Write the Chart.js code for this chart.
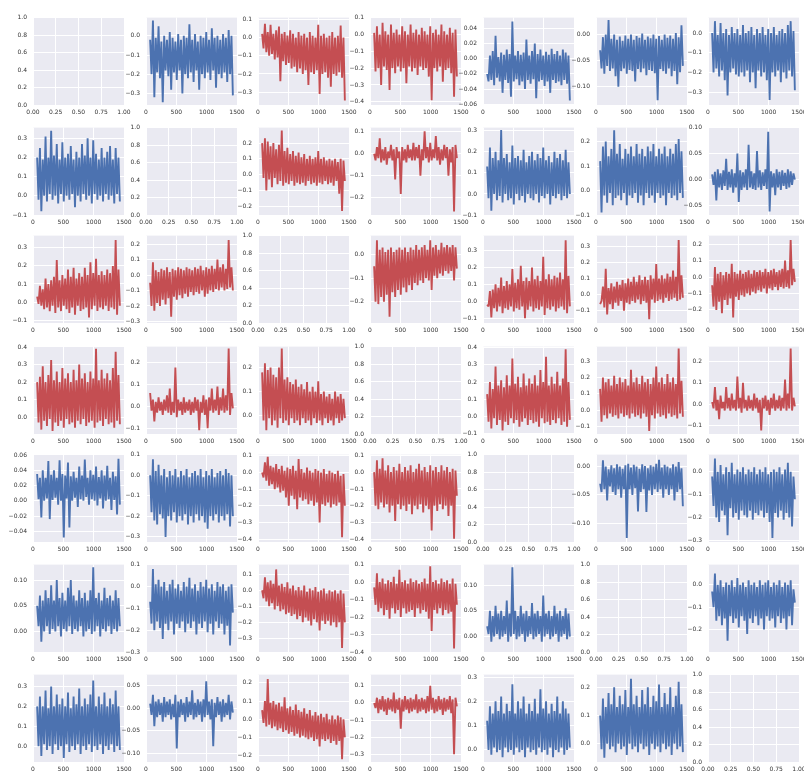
<!DOCTYPE html>
<html>
<head>
<meta charset="utf-8">
<script src="https://cdn.jsdelivr.net/npm/chart.js@4.4.1/dist/chart.umd.min.js"></script>
<style>
  html, body { margin: 0; padding: 0; background: #fff; }
  #wrap { position: relative; width: 804px; height: 774px; overflow: hidden; }
  #wrap canvas { position: absolute; }
</style>
</head>
<body>
<div id="wrap"></div>
<script>
// values, one array per panel (row r, column c)
const r1c2 = [-0.02,-0.2, 0.08,-0.32, -0.01,-0.19, 0.05,-0.22, -0.03,-0.345, 0.0,-0.18, -0.02,-0.21, 0.02,-0.28, -0.01,-0.19, -0.03,-0.23, 0.01,-0.18, -0.02,-0.3, 0.0,-0.2, -0.01,-0.22, 0.06,-0.19, -0.02,-0.24, 0.01,-0.18, -0.03,-0.28, 0.0,-0.2, -0.01,-0.22, 0.02,-0.19, -0.02,-0.23, 0.04,-0.18, -0.01,-0.27, 0.0,-0.2, -0.02,-0.22, 0.01,-0.19, -0.01,-0.24, 0.03,-0.2, 0.0,-0.31];
const r1c3 = [0.02,-0.06, 0.075,-0.08, 0.03,-0.1, 0.07,-0.09, 0.02,-0.12, 0.04,-0.11, 0.06,-0.24, 0.02,-0.13, 0.03,-0.15, 0.01,-0.14, 0.04,-0.17, 0.02,-0.16, 0.0,-0.19, 0.03,-0.17, 0.01,-0.2, 0.02,-0.18, 0.0,-0.26, 0.03,-0.19, 0.01,-0.2, 0.0,-0.18, 0.07,-0.31, 0.01,-0.2, 0.02,-0.19, 0.0,-0.22, 0.01,-0.27, 0.03,-0.2, 0.0,-0.21, 0.01,-0.19, 0.065,-0.22, 0.0,-0.345];
const r1c4 = [0.01,-0.22, 0.05,-0.2, 0.0,-0.3, 0.07,-0.19, 0.02,-0.21, 0.0,-0.33, 0.06,-0.2, 0.01,-0.23, 0.03,-0.19, 0.0,-0.22, 0.05,-0.2, 0.02,-0.29, 0.0,-0.19, 0.06,-0.22, 0.01,-0.2, 0.03,-0.24, 0.0,-0.19, 0.04,-0.21, 0.02,-0.2, 0.0,-0.25, 0.05,-0.39, 0.01,-0.2, 0.03,-0.22, 0.0,-0.19, 0.06,-0.28, 0.02,-0.21, 0.0,-0.2, 0.04,-0.23, 0.01,-0.37, 0.03,-0.25];
const r1c5 = [-0.02,-0.03, 0.004,-0.028, 0.01,-0.035, 0.03,-0.025, 0.002,-0.03, 0.008,-0.045, 0.005,-0.028, 0.012,-0.032, 0.006,-0.05, 0.049,-0.03, 0.004,-0.027, 0.01,-0.035, 0.005,-0.03, 0.008,-0.04, 0.025,-0.028, 0.004,-0.033, 0.01,-0.027, 0.02,-0.052, 0.006,-0.03, 0.012,-0.028, 0.004,-0.036, 0.009,-0.03, 0.005,-0.045, 0.013,-0.028, 0.006,-0.032, 0.01,-0.03, 0.004,-0.035, 0.012,-0.028, 0.008,-0.033, 0.004,-0.055];
const r1c6 = [-0.03,-0.065, -0.005,-0.075, 0.0,-0.06, 0.028,-0.07, -0.008,-0.065, 0.0,-0.08, -0.01,-0.1, -0.004,-0.07, -0.012,-0.065, -0.002,-0.075, -0.008,-0.068, 0.0,-0.07, -0.01,-0.09, -0.003,-0.066, -0.006,-0.072, 0.002,-0.065, -0.01,-0.078, -0.004,-0.068, -0.007,-0.07, 0.0,-0.074, -0.008,-0.126, -0.003,-0.066, -0.01,-0.07, 0.0,-0.075, -0.006,-0.065, -0.002,-0.08, -0.008,-0.07, 0.003,-0.095, -0.005,-0.072, 0.018,-0.06];
const r1c7 = [0.0,-0.2, 0.06,-0.18, -0.01,-0.22, 0.05,-0.19, 0.0,-0.24, 0.02,-0.317, -0.01,-0.2, 0.03,-0.18, 0.0,-0.21, 0.02,-0.22, -0.01,-0.2, 0.04,-0.22, 0.0,-0.19, 0.01,-0.25, 0.03,-0.2, -0.01,-0.28, 0.02,-0.19, 0.0,-0.22, 0.03,-0.2, -0.01,-0.24, 0.02,-0.34, 0.0,-0.2, 0.03,-0.22, -0.01,-0.19, 0.01,-0.25, 0.02,-0.2, 0.0,-0.23, 0.04,-0.19, 0.06,-0.22, 0.01,-0.29];

const r2c1 = [0.2,-0.02, 0.25,-0.08, 0.19,0.0, 0.31,-0.03, 0.2,0.01, 0.34,-0.02, 0.21,0.0, 0.27,-0.04, 0.19,0.01, 0.28,-0.03, 0.2,0.0, 0.22,-0.02, 0.26,0.01, 0.19,-0.06, 0.23,0.0, 0.2,-0.03, 0.27,0.01, 0.21,-0.02, 0.3,0.0, 0.2,-0.04, 0.29,0.01, 0.22,-0.02, 0.19,0.0, 0.25,-0.03, 0.2,0.01, 0.23,-0.02, 0.26,0.0, 0.19,-0.04, 0.25,0.01, 0.2,-0.03];
const r2c3 = [0.2,-0.02, 0.23,-0.1, 0.21,-0.03, 0.18,-0.08, 0.2,-0.02, 0.16,-0.06, 0.19,-0.04, 0.28,-0.07, 0.15,-0.05, 0.17,-0.06, 0.13,-0.04, 0.15,-0.07, 0.12,-0.05, 0.14,-0.06, 0.11,-0.05, 0.13,-0.07, 0.1,-0.04, 0.12,-0.06, 0.1,-0.05, 0.11,-0.07, 0.15,-0.05, 0.1,-0.06, 0.11,-0.04, 0.09,-0.06, 0.1,-0.05, 0.09,-0.07, 0.1,-0.04, 0.08,-0.12, 0.1,-0.23, 0.09,-0.04];
const r2c4 = [0.0,-0.03, 0.03,-0.02, 0.07,-0.04, 0.02,-0.03, 0.03,-0.05, 0.01,-0.02, 0.04,-0.03, 0.02,-0.117, 0.03,-0.02, 0.01,-0.183, 0.03,-0.03, 0.02,-0.04, 0.04,-0.02, 0.02,-0.03, 0.05,-0.03, 0.03,-0.02, 0.04,-0.1, 0.02,-0.03, 0.102,-0.02, 0.03,-0.04, 0.05,-0.03, 0.02,-0.02, 0.08,-0.03, 0.03,-0.05, 0.02,-0.03, 0.04,-0.02, 0.03,-0.1, 0.02,-0.04, 0.03,-0.263, 0.04,-0.02];
const r2c5 = [0.13,-0.02, 0.22,-0.08, 0.17,0.0, 0.2,-0.03, 0.16,-0.01, 0.303,-0.04, 0.17,0.0, 0.19,-0.03, 0.15,-0.02, 0.23,-0.05, 0.17,0.0, 0.18,-0.03, 0.16,-0.01, 0.21,-0.04, 0.15,0.0, 0.18,-0.02, 0.2,-0.03, 0.16,0.0, 0.19,-0.04, 0.17,-0.01, 0.22,-0.02, 0.16,0.0, 0.18,-0.05, 0.15,-0.01, 0.2,-0.02, 0.17,0.0, 0.19,-0.03, 0.16,-0.01, 0.21,-0.02, 0.15,0.0];
const r2c6 = [0.12,-0.09, 0.18,-0.02, 0.2,-0.05, 0.14,-0.01, 0.17,-0.06, 0.246,-0.03, 0.15,-0.02, 0.19,-0.04, 0.13,-0.01, 0.17,-0.06, 0.15,-0.02, 0.18,-0.03, 0.14,-0.01, 0.19,-0.05, 0.15,-0.02, 0.17,-0.06, 0.14,-0.01, 0.18,-0.03, 0.16,-0.02, 0.19,-0.05, 0.14,-0.01, 0.17,-0.03, 0.15,-0.02, 0.18,-0.06, 0.14,-0.01, 0.17,-0.03, 0.15,-0.02, 0.19,-0.04, 0.21,-0.01, 0.16,-0.03];
const r2c7 = [0.01,-0.01, 0.015,-0.04, 0.02,-0.015, 0.012,-0.02, 0.018,-0.012, 0.04,-0.02, 0.015,-0.015, 0.02,-0.025, 0.012,-0.015, 0.05,-0.043, 0.018,-0.02, 0.014,-0.015, 0.02,-0.02, 0.067,-0.015, 0.016,-0.018, 0.012,-0.02, 0.055,-0.015, 0.018,-0.02, 0.014,-0.012, 0.02,-0.018, 0.092,-0.061, 0.016,-0.015, 0.012,-0.03, 0.02,-0.015, 0.015,-0.02, 0.018,-0.012, 0.013,-0.018, 0.02,-0.015, 0.016,-0.01, 0.012,0.0];

const r3c1 = [0.03,-0.01, 0.09,-0.02, 0.07,-0.04, 0.13,-0.03, 0.1,-0.05, 0.12,-0.02, 0.14,-0.06, 0.233,-0.03, 0.12,-0.05, 0.15,-0.02, 0.13,-0.04, 0.18,-0.06, 0.14,-0.03, 0.19,-0.07, 0.13,-0.02, 0.16,-0.05, 0.14,-0.04, 0.19,-0.03, 0.15,-0.086, 0.22,-0.04, 0.16,-0.02, 0.24,-0.05, 0.15,-0.03, 0.17,-0.04, 0.15,-0.02, 0.18,-0.05, 0.16,-0.03, 0.2,-0.04, 0.344,-0.07, 0.18,-0.02];
const r3c2 = [-0.05,-0.2, 0.083,-0.23, 0.03,-0.18, 0.02,-0.2, 0.04,-0.16, 0.03,-0.19, 0.05,-0.15, 0.02,-0.27, 0.04,-0.14, 0.03,-0.16, 0.05,-0.13, 0.04,-0.15, 0.03,-0.12, 0.05,-0.14, 0.04,-0.11, 0.03,-0.13, 0.05,-0.11, 0.04,-0.12, 0.06,-0.1, 0.03,-0.14, 0.05,-0.12, 0.04,-0.1, 0.06,-0.11, 0.04,-0.09, 0.1,-0.1, 0.05,-0.08, 0.07,-0.1, 0.04,-0.09, 0.226,-0.08, 0.05,-0.1];
const r3c4 = [-0.05,-0.2, 0.06,-0.21, 0.02,-0.18, 0.03,-0.2, 0.01,-0.17, 0.02,-0.263, 0.03,-0.16, 0.01,-0.18, 0.02,-0.15, 0.03,-0.17, 0.02,-0.14, 0.03,-0.16, 0.01,-0.13, 0.03,-0.15, 0.02,-0.12, 0.04,-0.13, 0.02,-0.11, 0.03,-0.12, 0.04,-0.1, 0.02,-0.11, 0.06,-0.15, 0.03,-0.09, 0.04,-0.1, 0.02,-0.08, 0.05,-0.09, 0.03,-0.07, 0.04,-0.08, 0.03,-0.07, 0.04,-0.11, 0.03,-0.06];
const r3c5 = [-0.02,-0.03, 0.06,-0.095, 0.07,-0.04, 0.1,-0.06, 0.08,-0.03, 0.14,-0.07, 0.09,-0.04, 0.12,-0.05, 0.1,-0.03, 0.19,-0.06, 0.11,-0.04, 0.13,-0.05, 0.21,-0.03, 0.12,-0.1, 0.14,-0.05, 0.12,-0.03, 0.2,-0.06, 0.13,-0.04, 0.15,-0.05, 0.12,-0.03, 0.263,-0.08, 0.13,-0.04, 0.16,-0.05, 0.13,-0.03, 0.15,-0.06, 0.14,-0.04, 0.17,-0.03, 0.13,-0.05, 0.36,-0.07, 0.15,-0.03];
const r3c6 = [-0.06,-0.04, 0.05,-0.08, 0.16,-0.124, 0.04,-0.06, 0.07,-0.09, 0.05,-0.05, 0.08,-0.07, 0.06,-0.04, 0.09,-0.1, 0.07,-0.05, 0.1,-0.06, 0.08,-0.04, 0.11,-0.05, 0.08,-0.03, 0.12,-0.06, 0.09,-0.04, 0.11,-0.05, 0.09,-0.154, 0.12,-0.03, 0.1,-0.05, 0.19,-0.04, 0.1,-0.03, 0.12,-0.05, 0.1,-0.02, 0.13,-0.04, 0.11,-0.03, 0.15,-0.02, 0.11,-0.04, 0.34,-0.03, 0.12,-0.02];
const r3c7 = [-0.05,-0.18, 0.06,-0.2, 0.02,-0.15, 0.03,-0.22, 0.01,-0.14, 0.03,-0.17, 0.02,-0.13, 0.08,-0.247, 0.03,-0.12, 0.02,-0.14, 0.04,-0.11, 0.02,-0.12, 0.03,-0.1, 0.04,-0.11, 0.02,-0.09, 0.04,-0.1, 0.03,-0.08, 0.04,-0.09, 0.03,-0.07, 0.05,-0.1, 0.03,-0.07, 0.04,-0.08, 0.05,-0.06, 0.03,-0.08, 0.04,-0.06, 0.05,-0.07, 0.1,-0.06, 0.04,-0.07, 0.225,-0.05, 0.05,-0.03];

const r4c1 = [0.2,-0.03, 0.23,-0.07, 0.29,-0.02, 0.2,-0.05, 0.24,-0.01, 0.326,-0.078, 0.21,-0.03, 0.26,-0.05, 0.2,-0.02, 0.28,-0.06, 0.22,-0.01, 0.25,-0.04, 0.2,-0.03, 0.27,-0.06, 0.21,-0.02, 0.3,-0.04, 0.22,-0.01, 0.25,-0.05, 0.2,-0.03, 0.26,-0.02, 0.22,-0.06, 0.39,-0.03, 0.21,-0.02, 0.27,-0.05, 0.22,-0.01, 0.25,-0.04, 0.21,-0.03, 0.28,-0.06, 0.373,-0.02, 0.24,-0.04];
const r4c2 = [0.06,-0.02, 0.03,-0.07, 0.02,-0.03, 0.04,-0.02, 0.02,-0.04, 0.03,-0.02, 0.05,-0.03, 0.08,-0.04, 0.02,-0.03, 0.176,-0.05, 0.03,-0.02, 0.02,-0.04, 0.04,-0.03, 0.02,-0.02, 0.03,-0.04, 0.02,-0.03, 0.04,-0.02, 0.03,-0.11, 0.02,-0.03, 0.05,-0.04, 0.03,-0.1, 0.04,-0.02, 0.08,-0.03, 0.03,-0.02, 0.09,-0.04, 0.04,-0.02, 0.08,-0.03, 0.05,-0.02, 0.263,-0.04, 0.06,-0.01];
const r4c3 = [0.18,-0.02, 0.218,-0.06, 0.19,-0.01, 0.2,-0.04, 0.17,-0.02, 0.16,-0.05, 0.2,-0.01, 0.279,-0.03, 0.15,-0.02, 0.16,-0.04, 0.14,-0.01, 0.13,-0.03, 0.15,-0.02, 0.12,-0.04, 0.13,-0.01, 0.11,-0.03, 0.14,-0.02, 0.1,-0.04, 0.12,-0.01, 0.1,-0.03, 0.143,-0.02, 0.09,-0.04, 0.1,-0.01, 0.08,-0.03, 0.09,-0.02, 0.07,-0.04, 0.1,-0.01, 0.08,-0.03, 0.09,-0.02, 0.07,-0.01];
const r4c5 = [0.13,-0.03, 0.2,-0.07, 0.16,-0.01, 0.29,-0.05, 0.18,-0.02, 0.21,-0.082, 0.17,-0.03, 0.24,-0.05, 0.18,-0.01, 0.337,-0.04, 0.19,-0.02, 0.23,-0.06, 0.17,-0.03, 0.25,-0.01, 0.18,-0.05, 0.22,-0.02, 0.19,-0.04, 0.24,-0.03, 0.18,-0.06, 0.27,-0.01, 0.2,-0.04, 0.347,-0.03, 0.18,-0.05, 0.23,-0.02, 0.19,-0.04, 0.26,-0.01, 0.18,-0.05, 0.22,-0.03, 0.39,-0.06, 0.2,-0.02];
const r4c6 = [0.13,-0.07, 0.2,-0.03, 0.17,-0.05, 0.19,-0.02, 0.15,-0.04, 0.21,-0.03, 0.16,-0.05, 0.2,-0.02, 0.17,-0.04, 0.19,-0.03, 0.15,-0.05, 0.246,-0.02, 0.17,-0.04, 0.2,-0.03, 0.16,-0.05, 0.21,-0.02, 0.17,-0.04, 0.19,-0.127, 0.16,-0.03, 0.2,-0.05, 0.266,-0.02, 0.17,-0.04, 0.2,-0.03, 0.16,-0.05, 0.22,-0.02, 0.17,-0.04, 0.2,-0.03, 0.16,-0.05, 0.376,-0.02, 0.18,-0.04];
const r4c7 = [0.01,-0.02, 0.08,-0.03, 0.02,-0.07, 0.04,-0.02, 0.01,-0.03, 0.08,-0.02, 0.03,-0.03, 0.05,-0.02, 0.02,-0.03, 0.13,-0.02, 0.03,-0.04, 0.1,-0.02, 0.02,-0.03, 0.04,-0.02, 0.02,-0.03, 0.05,-0.02, 0.03,-0.04, 0.02,-0.123, 0.03,-0.02, 0.04,-0.03, 0.02,-0.05, 0.03,-0.02, 0.05,-0.03, 0.02,-0.02, 0.04,-0.03, 0.03,-0.02, 0.115,-0.03, 0.05,-0.02, 0.261,-0.03, 0.03,-0.01];

const r5c1 = [0.035,0.002, 0.03,-0.022, 0.04,0.0, 0.03,0.003, 0.052,-0.024, 0.034,0.001, 0.04,0.004, 0.03,-0.005, 0.053,0.0, 0.035,-0.048, 0.033,0.003, 0.05,-0.035, 0.032,0.0, 0.038,0.004, 0.03,-0.008, 0.045,0.002, 0.033,0.0, 0.054,0.005, 0.03,-0.005, 0.04,0.002, 0.034,0.0, 0.045,-0.006, 0.031,0.003, 0.04,-0.01, 0.033,0.0, 0.046,0.002, 0.03,-0.012, 0.038,0.001, 0.032,-0.018, 0.055,-0.005];
const r5c2 = [0.0,-0.18, 0.077,-0.22, 0.02,-0.24, 0.05,-0.19, 0.0,-0.21, 0.03,-0.3, -0.01,-0.2, 0.02,-0.22, 0.0,-0.18, 0.03,-0.23, -0.01,-0.2, 0.02,-0.22, 0.0,-0.19, 0.03,-0.24, -0.01,-0.2, 0.01,-0.23, 0.02,-0.19, 0.0,-0.22, 0.03,-0.2, -0.01,-0.23, 0.02,-0.26, 0.0,-0.2, 0.03,-0.22, -0.01,-0.19, 0.01,-0.23, 0.02,-0.2, 0.0,-0.22, 0.03,-0.19, 0.01,-0.25, 0.0,-0.2];
const r5c3 = [0.0,-0.03, 0.06,-0.05, 0.094,-0.08, 0.04,-0.07, 0.03,-0.1, 0.05,-0.09, 0.02,-0.12, 0.04,-0.11, 0.01,-0.15, 0.03,-0.2, 0.02,-0.14, 0.04,-0.16, 0.01,-0.22, 0.08,-0.15, 0.02,-0.17, 0.0,-0.16, 0.03,-0.19, 0.01,-0.17, 0.0,-0.2, 0.02,-0.18, 0.01,-0.3, 0.0,-0.19, 0.02,-0.2, -0.01,-0.18, 0.01,-0.21, 0.0,-0.19, -0.01,-0.2, 0.01,-0.18, -0.02,-0.388, -0.01,-0.2];
const r5c4 = [0.0,-0.2, 0.07,-0.22, 0.02,-0.18, 0.082,-0.21, 0.01,-0.19, 0.04,-0.24, 0.0,-0.2, 0.03,-0.29, 0.01,-0.19, 0.05,-0.22, 0.0,-0.2, 0.03,-0.23, 0.01,-0.19, 0.04,-0.25, 0.0,-0.2, 0.02,-0.22, 0.05,-0.19, 0.01,-0.24, 0.03,-0.2, 0.0,-0.22, 0.04,-0.347, 0.01,-0.2, 0.03,-0.23, 0.0,-0.19, 0.04,-0.22, 0.01,-0.2, 0.03,-0.26, 0.0,-0.2, 0.02,-0.395, 0.01,-0.14];
const r5c6 = [-0.03,-0.045, 0.011,-0.04, 0.0,-0.06, -0.005,-0.035, 0.002,-0.045, -0.003,-0.05, 0.004,-0.04, 0.0,-0.055, -0.004,-0.04, 0.002,-0.126, 0.005,-0.04, -0.002,-0.05, 0.003,-0.038, 0.0,-0.079, -0.004,-0.045, 0.004,-0.04, 0.001,-0.08, -0.003,-0.042, 0.002,-0.05, 0.0,-0.04, 0.005,-0.045, 0.012,-0.04, -0.002,-0.055, 0.003,-0.04, 0.0,-0.05, -0.003,-0.04, 0.004,-0.06, 0.0,-0.045, 0.008,-0.04, -0.003,-0.07];
const r5c7 = [-0.02,-0.15, 0.059,-0.2, 0.0,-0.22, 0.03,-0.17, -0.01,-0.19, 0.02,-0.278, 0.0,-0.16, 0.04,-0.2, -0.01,-0.18, 0.01,-0.21, 0.0,-0.17, 0.02,-0.19, -0.01,-0.2, 0.01,-0.17, 0.0,-0.21, 0.02,-0.18, -0.01,-0.19, 0.01,-0.17, 0.0,-0.2, 0.02,-0.18, -0.01,-0.22, 0.0,-0.29, 0.01,-0.18, 0.0,-0.2, 0.02,-0.17, -0.01,-0.21, 0.01,-0.18, 0.04,-0.2, 0.0,-0.24, -0.02,-0.12];

const r6c1 = [0.05,0.01, 0.07,-0.02, 0.06,0.0, 0.08,0.01, 0.065,-0.005, 0.09,0.005, 0.06,0.0, 0.1,0.01, 0.065,-0.01, 0.075,0.005, 0.06,0.0, 0.085,0.01, 0.1,-0.005, 0.07,0.005, 0.06,0.0, 0.08,0.01, 0.065,-0.01, 0.075,0.0, 0.06,0.005, 0.08,-0.005, 0.125,0.0, 0.065,0.01, 0.075,-0.01, 0.06,0.005, 0.085,0.0, 0.065,0.01, 0.07,-0.005, 0.06,0.005, 0.08,0.0, 0.065,0.01];
const r6c2 = [-0.05,-0.15, 0.1,-0.18, 0.03,-0.14, 0.05,-0.17, 0.02,-0.22, 0.04,-0.15, 0.0,-0.18, 0.03,-0.14, 0.05,-0.2, 0.01,-0.15, 0.03,-0.17, 0.0,-0.14, 0.04,-0.19, 0.02,-0.15, 0.06,-0.17, 0.01,-0.14, 0.03,-0.2, 0.0,-0.15, 0.04,-0.17, 0.02,-0.14, 0.05,-0.19, 0.01,-0.15, 0.03,-0.2, 0.0,-0.14, 0.04,-0.17, 0.02,-0.15, 0.03,-0.2, 0.0,-0.16, 0.02,-0.25, 0.03,-0.1];
const r6c3 = [0.0,-0.05, 0.08,-0.07, 0.05,-0.1, 0.06,-0.08, 0.04,-0.12, 0.13,-0.1, 0.03,-0.13, 0.04,-0.12, 0.02,-0.15, 0.05,-0.14, 0.01,-0.16, 0.03,-0.15, 0.0,-0.18, 0.02,-0.16, 0.0,-0.2, 0.03,-0.17, -0.01,-0.19, 0.01,-0.22, 0.0,-0.18, 0.02,-0.2, -0.01,-0.25, 0.0,-0.19, 0.01,-0.21, -0.02,-0.19, 0.0,-0.22, -0.01,-0.2, 0.0,-0.23, -0.02,-0.2, 0.0,-0.36, -0.02,-0.2];
const r6c4 = [0.0,-0.1, 0.08,-0.14, 0.03,-0.12, 0.05,-0.16, 0.02,-0.13, 0.04,-0.18, 0.03,-0.12, 0.06,-0.15, 0.02,-0.13, 0.1,-0.17, 0.03,-0.12, 0.04,-0.15, 0.02,-0.14, 0.05,-0.13, 0.03,-0.17, 0.04,-0.12, 0.02,-0.15, 0.03,-0.13, 0.05,-0.14, 0.02,-0.18, 0.12,-0.25, 0.03,-0.13, 0.04,-0.15, 0.02,-0.12, 0.05,-0.16, 0.03,-0.13, 0.04,-0.15, 0.02,-0.14, 0.05,-0.35, 0.02,-0.1];
const r6c5 = [0.02,0.005, 0.05,-0.01, 0.04,0.0, 0.06,0.005, 0.045,-0.005, 0.05,0.0, 0.04,0.005, 0.07,-0.01, 0.045,0.0, 0.135,0.005, 0.05,-0.005, 0.04,0.0, 0.06,0.005, 0.045,-0.01, 0.05,0.0, 0.04,0.005, 0.065,-0.005, 0.045,0.0, 0.05,0.005, 0.04,-0.01, 0.08,0.0, 0.045,0.005, 0.05,-0.005, 0.04,0.0, 0.06,0.005, 0.045,-0.01, 0.05,0.0, 0.04,0.005, 0.055,-0.005, 0.045,0.0];
const r6c7 = [-0.03,-0.1, 0.05,-0.16, 0.0,-0.14, 0.02,-0.18, -0.01,-0.15, 0.01,-0.25, 0.0,-0.14, 0.02,-0.17, -0.01,-0.15, 0.03,-0.19, 0.0,-0.14, 0.01,-0.16, -0.01,-0.22, 0.02,-0.15, 0.0,-0.17, 0.01,-0.14, -0.01,-0.18, 0.02,-0.15, 0.0,-0.2, 0.01,-0.14, 0.02,-0.16, -0.01,-0.15, 0.01,-0.19, 0.0,-0.14, 0.02,-0.17, -0.01,-0.15, 0.01,-0.2, 0.0,-0.14, 0.02,-0.18, -0.02,-0.08];

const r7c1 = [0.2,0.0, 0.25,-0.05, 0.2,0.01, 0.28,-0.02, 0.19,0.0, 0.3,-0.04, 0.2,0.01, 0.26,-0.02, 0.21,0.0, 0.24,-0.06, 0.2,0.01, 0.27,-0.03, 0.19,0.0, 0.25,-0.02, 0.21,0.01, 0.29,-0.04, 0.2,0.0, 0.24,-0.02, 0.21,0.01, 0.26,-0.03, 0.33,0.0, 0.2,-0.02, 0.25,0.01, 0.21,-0.04, 0.27,0.0, 0.2,-0.02, 0.24,0.01, 0.21,-0.03, 0.28,0.0, 0.2,-0.02];
const r7c2 = [0.01,-0.015, 0.03,-0.04, 0.015,-0.02, 0.02,-0.015, 0.012,-0.03, 0.025,-0.02, 0.015,-0.015, 0.02,-0.025, 0.01,-0.02, 0.03,-0.09, 0.015,-0.02, 0.02,-0.015, 0.012,-0.03, 0.025,-0.02, 0.015,-0.015, 0.04,-0.025, 0.012,-0.02, 0.02,-0.015, 0.015,-0.03, 0.02,-0.02, 0.06,-0.015, 0.015,-0.025, 0.02,-0.085, 0.012,-0.02, 0.025,-0.015, 0.015,-0.03, 0.02,-0.02, 0.012,-0.015, 0.03,-0.025, 0.015,-0.01];
const r7c3 = [0.05,-0.02, 0.1,-0.04, 0.22,-0.03, 0.09,-0.05, 0.1,-0.04, 0.08,-0.06, 0.09,-0.05, 0.07,-0.07, 0.12,-0.06, 0.06,-0.08, 0.07,-0.07, 0.05,-0.09, 0.08,-0.08, 0.05,-0.1, 0.04,-0.09, 0.06,-0.1, 0.03,-0.11, 0.05,-0.1, 0.02,-0.12, 0.04,-0.11, 0.02,-0.15, 0.03,-0.11, 0.01,-0.12, 0.03,-0.11, 0.0,-0.13, 0.02,-0.12, 0.0,-0.14, 0.02,-0.12, 0.01,-0.22, 0.0,-0.1];
const r7c4 = [0.0,-0.03, 0.03,-0.06, 0.02,-0.04, 0.04,-0.05, 0.02,-0.07, 0.03,-0.04, 0.02,-0.05, 0.06,-0.06, 0.02,-0.04, 0.03,-0.15, 0.02,-0.05, 0.04,-0.04, 0.02,-0.06, 0.03,-0.05, 0.02,-0.04, 0.05,-0.06, 0.02,-0.05, 0.03,-0.04, 0.02,-0.06, 0.04,-0.05, 0.1,-0.04, 0.03,-0.06, 0.02,-0.05, 0.04,-0.04, 0.02,-0.07, 0.03,-0.05, 0.02,-0.04, 0.04,-0.06, 0.02,-0.3, 0.03,-0.02];
const r7c5 = [0.12,0.0, 0.18,-0.02, 0.15,0.01, 0.2,-0.01, 0.16,0.0, 0.22,-0.03, 0.15,0.01, 0.19,-0.01, 0.16,0.0, 0.27,-0.02, 0.15,0.01, 0.2,-0.01, 0.17,0.0, 0.22,-0.03, 0.15,0.01, 0.19,-0.01, 0.16,0.0, 0.21,-0.02, 0.15,0.01, 0.25,-0.01, 0.17,0.0, 0.2,-0.02, 0.15,0.01, 0.19,-0.03, 0.16,0.0, 0.22,-0.01, 0.15,0.01, 0.2,-0.02, 0.17,0.0, 0.15,0.01];
const r7c6 = [0.1,-0.02, 0.16,-0.05, 0.13,0.0, 0.18,-0.02, 0.14,-0.01, 0.2,-0.03, 0.13,0.0, 0.17,-0.02, 0.14,-0.01, 0.19,-0.04, 0.13,0.0, 0.23,-0.02, 0.14,-0.01, 0.17,-0.03, 0.13,0.0, 0.19,-0.02, 0.14,-0.01, 0.2,-0.04, 0.13,0.0, 0.17,-0.02, 0.15,-0.01, 0.21,-0.03, 0.13,0.0, 0.18,-0.02, 0.14,-0.01, 0.2,-0.04, 0.13,0.0, 0.17,-0.02, 0.22,-0.01, 0.14,-0.03];

// grid of panels, null = empty diagonal axes
const panels = [
  [null, r1c2, r1c3, r1c4, r1c5, r1c6, r1c7],
  [r2c1, null, r2c3, r2c4, r2c5, r2c6, r2c7],
  [r3c1, r3c2, null, r3c4, r3c5, r3c6, r3c7],
  [r4c1, r4c2, r4c3, null, r4c5, r4c6, r4c7],
  [r5c1, r5c2, r5c3, r5c4, null, r5c6, r5c7],
  [r6c1, r6c2, r6c3, r6c4, r6c5, null, r6c7],
  [r7c1, r7c2, r7c3, r7c4, r7c5, r7c6, null]
];
const tone = ['.brrbbb', 'b.rrbbb', 'rr.rrrr', 'rrr.rrr', 'bbrr.bb', 'bbrrb.b', 'bbrrbb.'];

// y axis limits and tick step per panel: [min, max, step]
const yLimits = [
  [null, [-0.36, 0.095, 0.1], [-0.37, 0.109, 0.1], [-0.419, 0.101, 0.1], [-0.061, 0.054, 0.02], [-0.135, 0.0325, 0.05], [-0.365, 0.078, 0.1]],
  [[-0.1, 0.356, 0.1], null, [-0.255, 0.298, 0.1], [-0.279, 0.119, 0.1], [-0.1, 0.315, 0.1], [-0.1, 0.257, 0.1], [-0.068, 0.1, 0.05]],
  [[-0.116, 0.368, 0.1], [-0.31, 0.255, 0.1], null, [-0.29, 0.08, 0.1], [-0.128, 0.388, 0.1], [-0.177, 0.367, 0.1], [-0.28, 0.252, 0.1]],
  [[-0.095, 0.402, 0.1], [-0.127, 0.272, 0.1], [-0.076, 0.287, 0.1], null, [-0.102, 0.406, 0.1], [-0.145, 0.388, 0.1], [-0.14, 0.27, 0.1]],
  [[-0.054, 0.0605, 0.02], [-0.325, 0.1, 0.1], [-0.417, 0.107, 0.1], [-0.415, 0.104, 0.1], null, [-0.133, 0.021, 0.05], [-0.308, 0.076, 0.1]],
  [[-0.04, 0.13, 0.05], [-0.28, 0.12, 0.1], [-0.385, 0.16, 0.1], [-0.37, 0.13, 0.1], [-0.03, 0.14, 0.05], null, [-0.3, 0.09, 0.1]],
  [[-0.08, 0.36, 0.1], [-0.12, 0.075, 0.05], [-0.235, 0.245, 0.1], [-0.345, 0.165, 0.1], [-0.05, 0.31, 0.1], [-0.065, 0.245, 0.1], null]
];
const lastIndex = 1480;
const xTickLabels = ['0', '500', '1000', '1500'];
const emptyXTicks = ['0.00', '0.25', '0.50', '0.75', '1.00'];
const emptyYTicks = ['0.0', '0.2', '0.4', '0.6', '0.8', '1.0'];

const colLeft = [33, 146, 258, 370, 483, 596, 708];
const rowTop = [14, 124, 232, 343, 451, 561, 671];
const plotW = 91, plotH = 91, axisW = 32, axisH = 16, padTop = 6, padRight = 12;
const colors = { b: '#4C72B0', r: '#C44E52' };

const panelBg = {
  id: 'panelBg',
  beforeDraw(chart) {
    const a = chart.chartArea, ctx = chart.ctx;
    ctx.save();
    ctx.fillStyle = '#EAEAF2';
    ctx.fillRect(a.left, a.top, a.right - a.left, a.bottom - a.top);
    ctx.restore();
  }
};

function fmt(v, dec) {
  if (Math.abs(v) < 1e-9) v = 0;
  return v.toFixed(dec).replace('-', '\u2212');
}

const tickFont = { family: 'DejaVu Sans', size: 6 };
const gridOpts = { color: '#ffffff', lineWidth: 1, drawTicks: false };
const wrap = document.getElementById('wrap');

for (let r = 0; r < 7; r++) {
  for (let c = 0; c < 7; c++) {
    const series = panels[r][c];
    const cv = document.createElement('canvas');
    cv.width = axisW + plotW + padRight;
    cv.height = padTop + plotH + axisH;
    cv.style.left = (colLeft[c] - axisW) + 'px';
    cv.style.top = (rowTop[r] - padTop) + 'px';
    wrap.appendChild(cv);

    let xScale, yScale, datasets = [];
    if (series) {
      const lim = yLimits[r][c];
      const dec = lim[2] < 0.1 ? 2 : 1;
      const pts = series.map((v, i) => ({ x: i * lastIndex / (series.length - 1), y: v }));
      datasets = [{ data: pts, borderColor: colors[tone[r][c]], borderWidth: 1.9, borderJoinStyle: 'bevel',
        pointRadius: 0, tension: 0, fill: false }];
      xScale = { min: -74, max: 1554, step: 500, label: v => xTickLabels[Math.round(v / 500)] };
      yScale = { min: lim[0], max: lim[1], step: lim[2], label: v => fmt(v, dec) };
    } else {
      xScale = { min: 0, max: 1, step: 0.25, label: v => emptyXTicks[Math.round(v / 0.25)] };
      yScale = { min: 0, max: 1, step: 0.2, label: v => emptyYTicks[Math.round(v / 0.2)] };
    }

    new Chart(cv, {
      type: 'line',
      data: { datasets: datasets },
      options: {
        responsive: false,
        animation: false,
        events: [],
        layout: { padding: { top: padTop, right: padRight, left: 0, bottom: 0 } },
        plugins: { legend: { display: false }, tooltip: { enabled: false } },
        scales: {
          x: {
            type: 'linear', min: xScale.min, max: xScale.max,
            afterFit: s => { s.height = axisH; },
            grid: gridOpts, border: { display: false },
            ticks: { stepSize: xScale.step, includeBounds: false, maxRotation: 0, minRotation: 0, autoSkip: false,
              padding: 4, font: tickFont, color: '#333', callback: xScale.label }
          },
          y: {
            type: 'linear', min: yScale.min, max: yScale.max,
            afterFit: s => { s.width = axisW; },
            grid: gridOpts, border: { display: false },
            ticks: { stepSize: yScale.step, includeBounds: false, autoSkip: false,
              padding: 6, font: tickFont, color: '#333', callback: yScale.label }
          }
        }
      },
      plugins: [panelBg]
    });
  }
}
</script>
</body>
</html>
